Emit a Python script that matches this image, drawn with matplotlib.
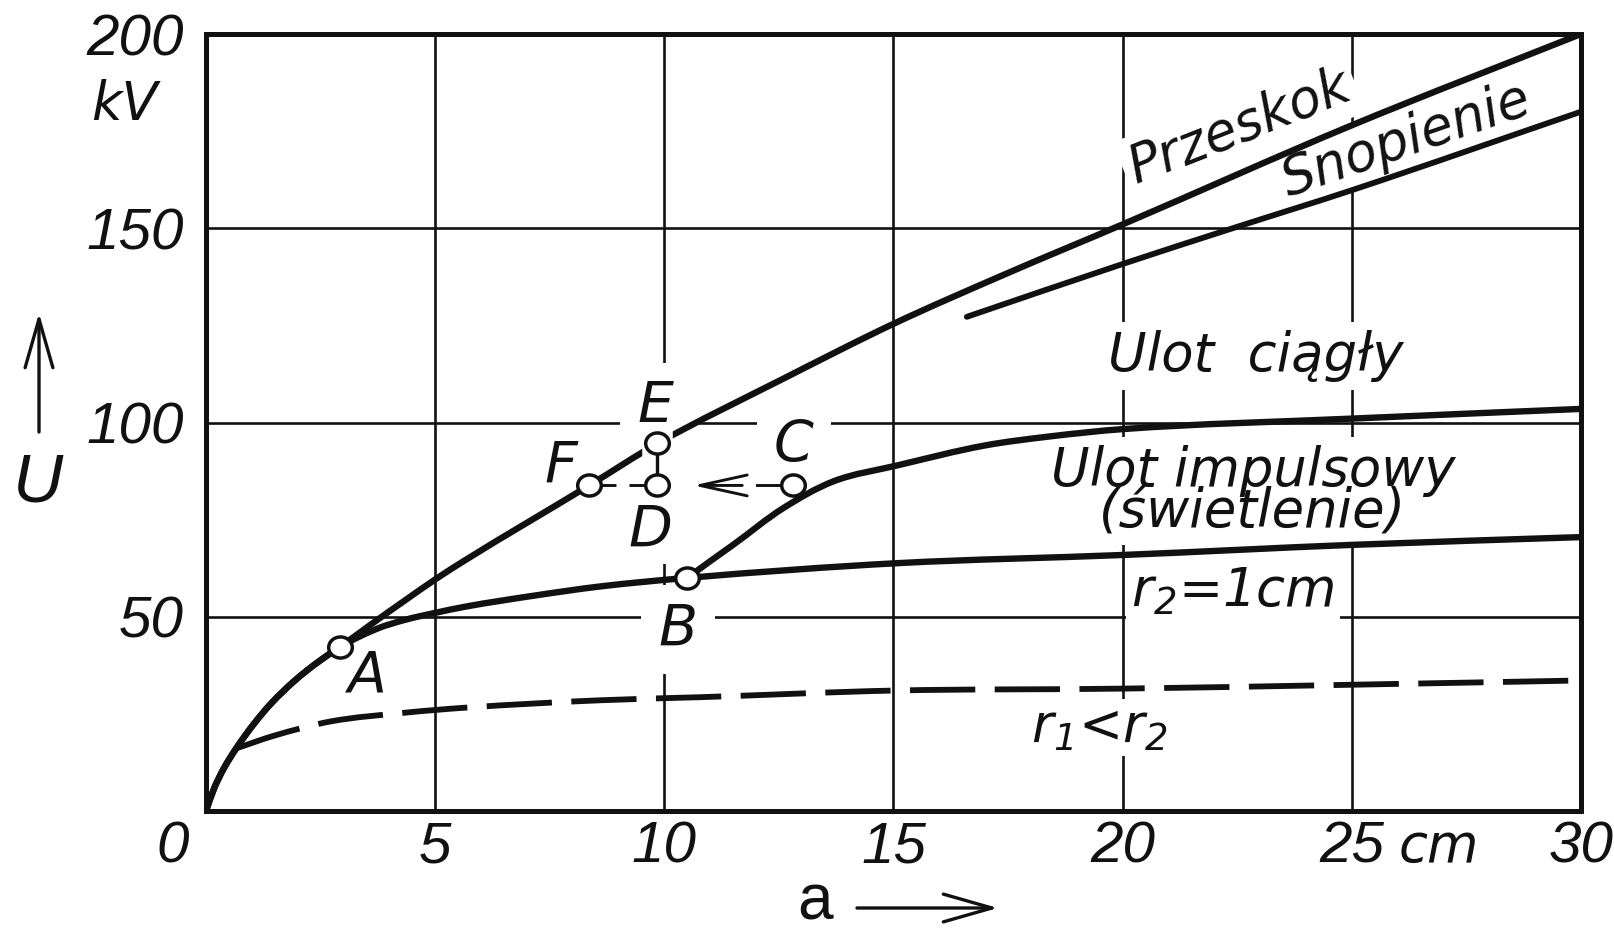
import numpy as np
import matplotlib
matplotlib.use('Agg')
import matplotlib.pyplot as plt
from matplotlib.path import Path
from matplotlib.patches import PathPatch, FancyArrowPatch
import matplotlib.transforms as mtrans
import matplotlib.patheffects as pe

plt.rcParams['lines.scale_dashes'] = False
plt.rcParams['mathtext.fontset'] = 'custom'
plt.rcParams['mathtext.rm'] = 'DejaVu Sans:italic'
plt.rcParams['mathtext.it'] = 'DejaVu Sans:italic'

# ---------------- data (a in cm, U in kV) ----------------
przeskok_a = [0, 0.18, 0.39, 0.68, 1.05, 1.43, 1.93, 2.37, 2.92, 3.62, 4.34, 5.0, 5.66, 8.36, 9.85, 12.6, 15, 17.5, 20, 25, 30]
przeskok_U = [0, 5.9, 11.0, 16.5, 22.5, 27.8, 33.5, 37.7, 42.2, 48.2, 54.2, 59.6, 64.6, 83.8, 94.6, 111.3, 125.4, 138.5, 151, 176.5, 200]

snopienie_a = [16.6, 20, 22.4, 25, 30]
snopienie_U = [127.2, 140.8, 150.0, 159.8, 180.0]

ciagly_a = [10.5, 11.0, 11.5, 12.6, 13.7, 15.1, 17.0, 18.4, 20, 25, 30]
ciagly_U = [60.0, 64.3, 68.5, 78.0, 84.9, 89.0, 94.1, 96.4, 98.3, 101.0, 103.5]

impuls_a = [0, 0.18, 0.39, 0.68, 1.05, 1.43, 1.93, 2.37, 2.92, 3.75, 4.34, 5.0, 5.66, 7.14, 8.6, 10.5, 15.1, 20, 25, 30]
impuls_U = [0, 5.9, 11.0, 16.5, 22.5, 27.8, 33.5, 37.7, 42.2, 47.0, 49.2, 51.0, 52.6, 55.4, 57.8, 60.0, 63.8, 65.9, 68.5, 70.5]

r1_a = [0.68, 1.49, 2.74, 4.34, 5.66, 8.6, 10.8, 15, 20, 25, 30]
r1_U = [16.2, 19.4, 23.1, 25.3, 26.6, 28.5, 29.3, 31.0, 31.5, 32.5, 33.6]

point_names = ['A', 'B', 'C', 'D', 'E', 'F']
point_a = [2.92, 10.5, 12.8, 9.85, 9.85, 8.36]
point_U = [42.2, 60.0, 83.8, 83.8, 94.6, 83.8]

x_ticks = [0, 5, 10, 15, 20, 25, 30]
x_tick_labels = ['', '5', '10', '15', '20', '25', '30']
y_ticks = [0, 50, 100, 150, 200]
y_tick_labels = ['', '50', '100', '150', '200']

# ---------------- figure ----------------
W, H = 1615, 933
fig = plt.figure(figsize=(W / 100, H / 100), dpi=100)
ax = fig.add_axes([206 / W, 1 - 811 / H, (1581 - 206) / W, (811 - 34) / H])
ax.set_xlim(0, 30)
ax.set_ylim(0, 200)

K = '#111111'
tick_font = dict(family=['Liberation Sans', 'DejaVu Sans'], style='italic', size=42)
lab_font = dict(family=['DejaVu Sans'], style='italic', size=38)
let_font = dict(family=['DejaVu Sans'], style='italic', size=41)

ax.set_xticks(x_ticks)
ax.set_xticklabels(x_tick_labels, fontdict=tick_font)
ax.set_yticks(y_ticks)
ax.set_yticklabels(y_tick_labels, fontdict=tick_font)
ax.tick_params(axis='both', length=0, colors=K)
ax.tick_params(axis='x', pad=7)
ax.tick_params(axis='y', pad=16)
ax.set_axisbelow(True)
ax.grid(True, color=K, lw=1.9)
for s in ax.spines.values():
    s.set_linewidth(3.6)
    s.set_color(K)

ax.annotate('0', xy=(0, 0), xytext=(-24, -7), textcoords='offset points',
            ha='center', va='top', color=K, **tick_font)
ax.annotate('cm', xy=(26.9, 0), xytext=(0, -37), textcoords='offset points',
            ha='center', va='baseline', color=K, annotation_clip=False, **lab_font)
ax.text(-1.77, 181.8, 'kV', ha='center', va='center', color=K, clip_on=False, **lab_font)


# ---------------- smooth drawing through the read points ----------------
SX, SY = 45.8, 3.9   # approx. pixels per cm / per kV, only to shape the tangents


def smooth_path(xs, ys):
    P = np.column_stack([np.asarray(xs, float) * SX, np.asarray(ys, float) * SY])
    n = len(P)
    T = np.zeros_like(P)
    for i in range(n):
        if i == 0:
            d = P[1] - P[0]
        elif i == n - 1:
            d = P[-1] - P[-2]
        else:
            d1 = P[i] - P[i - 1]
            d2 = P[i + 1] - P[i]
            d = d1 / np.linalg.norm(d1) + d2 / np.linalg.norm(d2)
        T[i] = d / np.linalg.norm(d)
    verts = [P[0]]
    codes = [Path.MOVETO]
    for i in range(n - 1):
        L = np.linalg.norm(P[i + 1] - P[i]) / 3.0
        verts += [P[i] + T[i] * L, P[i + 1] - T[i + 1] * L, P[i + 1]]
        codes += [Path.CURVE4] * 3
    verts = np.array(verts) / [SX, SY]
    return Path(verts, codes)


def curve(xs, ys, lw, **kw):
    ax.add_patch(PathPatch(smooth_path(xs, ys), fill=False, edgecolor=K, lw=lw,
                           capstyle='round', joinstyle='round', zorder=5, **kw))


curve(przeskok_a, przeskok_U, 4.6)
curve(snopienie_a, snopienie_U, 4.2)
curve(ciagly_a, ciagly_U, 4.6)
curve(impuls_a, impuls_U, 4.6)
ax.add_patch(PathPatch(smooth_path(r1_a, r1_U), fill=False, edgecolor=K, lw=4.2,
                       linestyle=(0, (47, 14)), capstyle='butt', zorder=5))

# connectors between the points
iC, iD, iE, iF = 2, 3, 4, 5
ax.plot([point_a[iE], point_a[iD]], [point_U[iE], point_U[iD]], color=K, lw=2.3, zorder=5,
        path_effects=[pe.withStroke(linewidth=22, foreground='white'), pe.Normal()])
ax.plot([point_a[iF], point_a[iD]], [point_U[iF], point_U[iD]], color=K, lw=2.1, zorder=5,
        dashes=(19.4, 9.4, 10.8, 40), dash_capstyle='butt')
ax.plot([12.03, point_a[iC]], [point_U[iC], point_U[iC]], color=K, lw=2.1, zorder=5)
ax.annotate('', xy=(10.63, point_U[iD]), xytext=(11.7, point_U[iD]),
            arrowprops=dict(arrowstyle='->,head_length=3.4,head_width=0.75', lw=2.1, color=K,
                            shrinkA=0, shrinkB=0, mutation_scale=10), zorder=5)

ell = Path.unit_circle().transformed(mtrans.Affine2D().scale(1.12, 1.0))
ax.plot(point_a, point_U, ls='none', marker=ell, ms=17, mfc='white', mec=K, mew=2.5, zorder=6)

# ---------------- labels ----------------
def wb(p):
    return dict(boxstyle='square,pad=%g' % p, facecolor='white', edgecolor='none')


ax.text(22.55, 176, 'Przeskok', rotation=21.5, ha='center', va='center', rotation_mode='anchor',
        color=K, bbox=wb(0.12), zorder=3, **lab_font)
ax.text(26.18, 172.8, 'Snopienie', rotation=19, ha='center', va='center', rotation_mode='anchor',
        color=K, bbox=wb(0.12), zorder=3, **lab_font)
ax.text(22.9, 113.3, 'Ulot  ciągły', ha='center', va='baseline', color=K, bbox=wb(0.15), zorder=3, **lab_font)
ax.text(22.84, 73.3, 'Ulot impulsowy\n(świetlenie)', ha='center', va='baseline', multialignment='center',
        linespacing=0.72, color=K, bbox=wb(0.15), zorder=3, **lab_font)
ax.text(22.4, 52.8, 'r$_2$=1cm', ha='center', va='baseline', color=K, bbox=wb(0.1), zorder=3, **lab_font)
ax.text(19.5, 17.7, 'r$_1$<r$_2$', ha='center', va='baseline', color=K, bbox=wb(0.05), zorder=3, **lab_font)

letter_pos = {'A': (3.5, 36.1, None), 'B': (10.3, 48.2, 0.3), 'C': (12.82, 95.4, 0.3),
              'D': (9.7, 73.6, 0.1), 'E': (9.8, 105.4, 0.3), 'F': (7.75, 90.0, None)}
for name in point_names:
    x, y, p = letter_pos[name]
    kw = dict(bbox=wb(p)) if p is not None else {}
    ax.text(x, y, name, ha='center', va='center_baseline', color=K, zorder=3, **kw, **let_font)

# ---------------- axis names with arrows ----------------
fig.text(37.5 / W, 1 - 483 / H, 'U', ha='center', va='center', color=K,
         family=['Liberation Sans', 'DejaVu Sans'], style='italic', size=50)
fig.text(815 / W, 1 - 920 / H, 'a', ha='center', va='baseline', color=K,
         family=['Liberation Sans', 'DejaVu Sans'], style='normal', size=46)
arrow_kw = dict(arrowstyle='->,head_length=3.5,head_width=1.0', lw=2.4, color=K,
                shrinkA=0, shrinkB=0, mutation_scale=10)
fig.add_artist(FancyArrowPatch((39, H - 432), (39, H - 313), transform=None, **arrow_kw))
fig.add_artist(FancyArrowPatch((857, H - 908), (998, H - 908), transform=None, **arrow_kw))

fig.savefig('out.png', dpi=100, facecolor='white')
